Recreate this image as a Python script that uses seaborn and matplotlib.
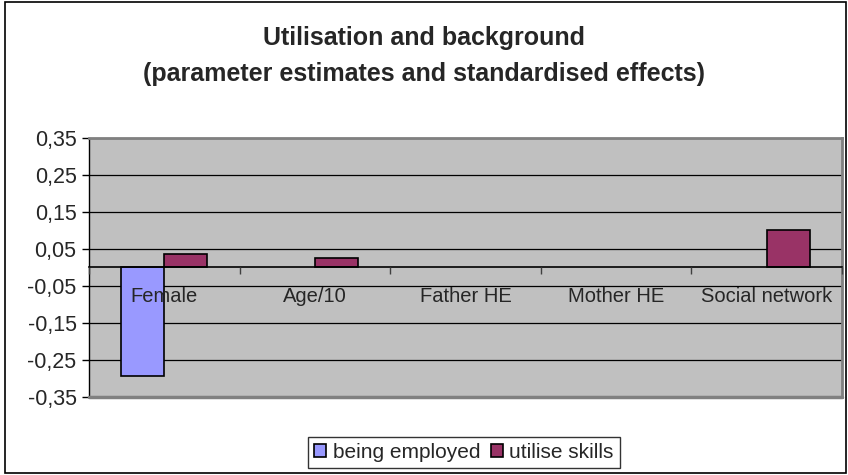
import numpy as np
import pandas as pd
import matplotlib
matplotlib.use("Agg")
import matplotlib.pyplot as plt
from matplotlib.patches import Rectangle
from matplotlib.ticker import FixedLocator
import seaborn as sns

categories = ["Female", "Age/10", "Father HE", "Mother HE", "Social network"]
being_employed = [-0.292, np.nan, np.nan, np.nan, np.nan]
utilise_skills = [0.035, 0.026, np.nan, np.nan, 0.10]
series_names = ["being employed", "utilise skills"]
colors = ["#9999FF", "#993366"]
yticks = [-0.35, -0.25, -0.15, -0.05, 0.05, 0.15, 0.25, 0.35]

df = pd.DataFrame({
    "category": categories * 2,
    "series": [series_names[0]] * 5 + [series_names[1]] * 5,
    "value": being_employed + utilise_skills,
})

sns.set_style("white")
plt.rcParams["font.family"] = ["Liberation Sans", "DejaVu Sans"]

fig = plt.figure(figsize=(8.48, 4.75), dpi=100)
ax = fig.add_axes([0.105, 0.164, 0.888, 0.546])
ax.set_facecolor("#C0C0C0")

sns.barplot(data=df, x="category", y="value", hue="series", order=categories,
            hue_order=series_names, palette=colors, saturation=1, width=0.57, gap=0,
            edgecolor="black", linewidth=1.2, ax=ax, zorder=3)

ax.set_ylim(-0.35, 0.35)
ax.set_xlim(-0.5, len(categories) - 0.5)
ax.set_yticks(yticks)
ax.set_yticklabels([f"{t:.2f}".replace(".", ",") for t in yticks], fontsize=15.5)
ax.yaxis.grid(True, color="black", linewidth=0.9)
ax.set_axisbelow(True)
ax.tick_params(axis="y", direction="out", length=5, width=1, color="black", pad=4, left=True)

# category axis sits on zero, ticks between categories; labels drawn over bars
ax.spines["bottom"].set_position(("data", 0))
ax.spines["bottom"].set_color("black")
ax.spines["bottom"].set_linewidth(1.2)
ax.spines["bottom"].set_zorder(4)
ax.xaxis.set_zorder(5)
ax.set_xticks(range(len(categories)))
ax.set_xticklabels(categories, fontsize=14.5)
ax.tick_params(axis="x", which="major", length=0, pad=14)
ax.xaxis.set_minor_locator(FixedLocator(np.arange(-0.5, len(categories), 1)))
ax.tick_params(axis="x", which="minor", direction="out", length=5, width=1, color="#404040", bottom=True)
for s in ["top", "right"]:
    ax.spines[s].set_color("#808080")
    ax.spines[s].set_linewidth(2)
ax.spines["left"].set_color("black")
ax.spines["left"].set_linewidth(1)
ax.axhline(-0.35, color="#808080", linewidth=2.5, zorder=4, clip_on=False)
ax.set_xlabel("")
ax.set_ylabel("")

leg = ax.legend(loc="center", bbox_to_anchor=(0.547, 0.047), bbox_transform=fig.transFigure,
                ncol=2, frameon=True, fancybox=False, fontsize=15, handlelength=0.6,
                handleheight=0.6, handletextpad=0.3, columnspacing=0.5, borderpad=0.3)
leg.get_frame().set_edgecolor("black")
leg.get_frame().set_linewidth(1)
for h in leg.legend_handles:
    h.set_edgecolor("black")
    h.set_linewidth(1.2)

fig.suptitle("Utilisation and background\n(parameter estimates and standardised effects)",
             y=0.945, fontsize=18, fontweight="bold", linespacing=1.6)

fig.patches.append(Rectangle((5 / 848, 2 / 475), 841 / 848, 471 / 475, transform=fig.transFigure,
                             fill=False, edgecolor="black", linewidth=1.2))

fig.savefig("out.png", dpi=100)
